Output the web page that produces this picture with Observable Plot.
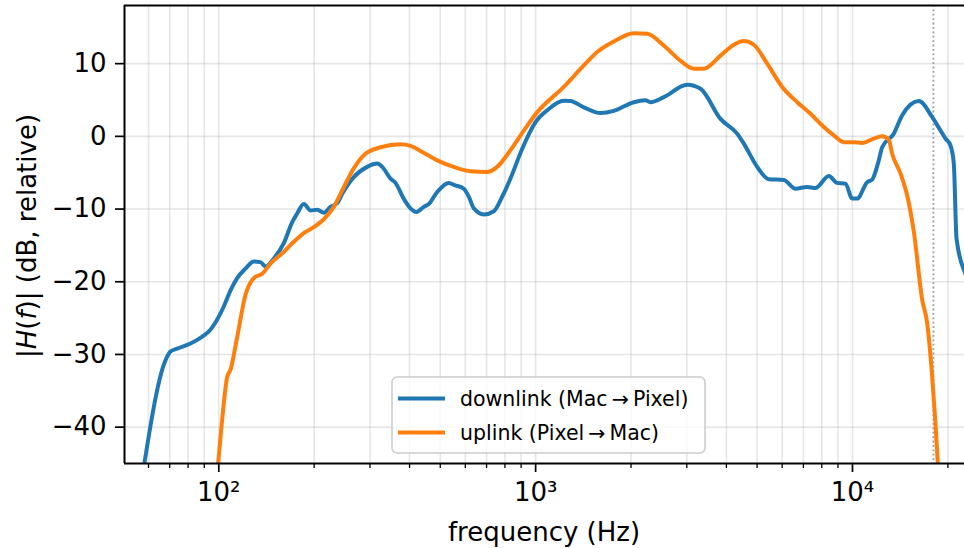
<!DOCTYPE html>
<html>
<head>
<meta charset="utf-8">
<script src="https://cdn.jsdelivr.net/npm/d3@7"></script>
<script src="https://cdn.jsdelivr.net/npm/@observablehq/plot@0.6"></script>
<style>
  html, body { margin: 0; padding: 0; background: #fff; }
  #chart { position: relative; width: 964px; height: 548px; }
</style>
</head>
<body>
<div id="chart"></div>
<script>
// ---- data ----
const seriesNames = ["downlink (Mac\u2009\u2192\u2009Pixel)", "uplink (Pixel\u2009\u2192\u2009Mac)"];
const seriesColors = ["#1f77b4", "#ff7f0e"];

const downFreq = [57.5, 67.6, 70.4, 73.9, 81.4, 89.7, 94.1, 100, 103.7, 108.9, 114.3, 121.4, 129.0, 135.4, 140.4, 149.2, 160.4, 170.5, 176.8, 185.5, 194.7, 204.5, 214.5, 225.2, 236.4, 245.2, 266.7, 294.0, 316.2, 328.0, 348.3, 361.2, 383.6, 402.7, 420.7, 443.6, 460.0, 489.0, 532.0, 554.6, 593.3, 615.3, 638.1, 686.1, 737.8, 784.3, 832.9, 907.1, 999, 1088, 1227, 1288, 1419, 1602, 1765, 2041, 2222, 2304, 2538, 3009, 3314, 3832, 4326, 4539, 5004, 5443, 6071, 6610, 7194, 7641, 8420, 8947, 9504, 9979, 10347, 11126, 11538, 12106, 12408, 13500, 14354, 16195, 17851, 18960, 19661, 20389, 20883, 21300, 22570, 23200];
const downDb = [-46.5, -31.0, -29.6, -29.2, -28.5, -27.4, -26.6, -24.8, -23.4, -21.2, -19.5, -18.2, -17.2, -17.3, -17.9, -16.8, -14.7, -11.8, -10.6, -9.3, -10.2, -10.1, -10.5, -9.7, -9.2, -7.9, -5.6, -4.2, -3.75, -4.2, -5.8, -6.4, -8.6, -9.9, -10.4, -9.7, -9.3, -7.65, -6.4, -6.7, -7.2, -8.3, -9.9, -10.75, -10.3, -8.3, -5.8, -1.7, 1.96, 3.6, 4.9, 4.85, 4.0, 3.2, 3.5, 4.7, 4.95, 4.7, 5.4, 7.1, 6.55, 2.4, 0.37, -1.0, -4.2, -5.9, -6.0, -7.2, -6.95, -7.1, -5.45, -6.4, -6.5, -8.55, -8.55, -6.3, -5.95, -3.3, -1.5, 0.37, 2.9, 4.85, 2.65, 0.8, -0.3, -1.25, -3.75, -14.05, -18.6, -19.8];

const upFreq = [98.8, 102.0, 106.3, 108.9, 114.3, 121.4, 129.0, 137.1, 145.6, 160.4, 172.5, 185.5, 199.5, 214.5, 230.7, 248.0, 266.7, 290.4, 323.9, 374.6, 402.7, 433.2, 489.0, 551.7, 623.0, 703.4, 756.0, 832.9, 917.7, 1011, 1227, 1419, 1564, 1765, 2041, 2250, 2538, 2866, 3157, 3394, 3832, 4222, 4539, 4881, 5381, 6001, 6692, 7370, 8026, 8730, 9389, 10095, 10730, 11670, 12408, 13016, 13340, 14173, 14878, 15610, 16600, 17210, 17850, 18280, 18680];
const upDb = [-46.5, -39.9, -33.1, -32.1, -27.6, -21.8, -19.5, -18.9, -17.5, -15.9, -14.5, -13.3, -12.5, -11.4, -9.7, -7.0, -4.4, -2.4, -1.5, -1.1, -1.3, -2.0, -3.3, -4.2, -4.8, -4.9, -4.2, -1.9, 0.8, 3.3, 6.8, 9.75, 11.6, 13.05, 14.2, 14.1, 12.5, 10.4, 9.3, 9.3, 11.1, 12.6, 13.1, 12.6, 10.0, 6.8, 4.7, 3.1, 1.5, 0.14, -0.8, -0.8, -0.9, -0.3, 0.0, -0.45, -2.4, -5.1, -8.1, -13.05, -22.5, -25.7, -33.1, -39.5, -46.5];

const markerFreq = [18000];

const xMajorTicks = [100, 1000, 10000];
const xMajorLabels = ["10\u00B2", "10\u00B3", "10\u2074"];
const xMinorTicks = [60, 70, 80, 90, 200, 300, 400, 500, 600, 700, 800, 900, 2000, 3000, 4000, 5000, 6000, 7000, 8000, 9000, 20000];
const yTicks = [-40, -30, -20, -10, 0, 10];
const xDomain = [50.4, 22570];
const yDomain = [-45, 18];

// ---- build tables ----
const down = downFreq.map((f, i) => ({f, db: downDb[i]}));
const up = upFreq.map((f, i) => ({f, db: upDb[i]}));

const font = "DejaVu Sans";
const gridStyle = {stroke: "#b0b0b0", strokeOpacity: 0.32, strokeWidth: 1.6};

const plot = Plot.plot({
  width: 964,
  height: 548,
  marginLeft: 124,
  marginRight: 0,
  marginTop: 5,
  marginBottom: 85,
  style: {fontFamily: font, fontSize: "26px", color: "#000", background: "#fff", overflow: "visible"},
  x: {type: "log", domain: xDomain, label: null},
  y: {domain: yDomain, label: null},
  marks: [
    Plot.gridX(xMajorTicks.concat(xMinorTicks), gridStyle),
    Plot.gridY(yTicks, gridStyle),
    Plot.ruleX(markerFreq, {stroke: "#999", strokeWidth: 1.8, strokeDasharray: "1.8,2.6"}),
    Plot.line(down, {x: "f", y: "db", stroke: seriesColors[0], strokeWidth: 4, curve: "monotone-x", clip: true}),
    Plot.line(up, {x: "f", y: "db", stroke: seriesColors[1], strokeWidth: 4, curve: "monotone-x", clip: true}),
    Plot.ruleY([yDomain[0], yDomain[1]], {stroke: "#000", strokeWidth: 2}),
    Plot.ruleX([xDomain[0]], {stroke: "#000", strokeWidth: 2}),
    Plot.axisX(xMajorTicks, {tickFormat: (d) => xMajorLabels[xMajorTicks.indexOf(d)], tickSize: 9, tickPadding: 10, strokeWidth: 1.7, fontSize: 26, label: null}),
    Plot.axisX(xMinorTicks, {tickFormat: () => "", tickSize: 5, strokeWidth: 1.3, label: null}),
    Plot.axisY(yTicks, {tickFormat: d => d < 0 ? "\u2212" + Math.abs(d) : String(d), tickSize: 9, tickPadding: 9, strokeWidth: 1.7, fontSize: 26, label: null})
  ]
});

document.getElementById("chart").appendChild(plot);

// ---- axis labels and legend (text decorations) ----
const svg = d3.select(plot);

svg.append("text")
  .attr("x", 544).attr("y", 541)
  .attr("text-anchor", "middle")
  .attr("font-family", font).attr("font-size", 26).attr("fill", "#000")
  .text("frequency (Hz)");

const yl = svg.append("text")
  .attr("transform", "translate(36,236) rotate(-90)")
  .attr("text-anchor", "middle")
  .attr("font-family", font).attr("font-size", 26).attr("fill", "#000");
yl.append("tspan").text("|");
yl.append("tspan").attr("font-style", "italic").text("H");
yl.append("tspan").text("(");
yl.append("tspan").attr("font-style", "italic").text("f");
yl.append("tspan").text(")| (dB, relative)");

const lg = svg.append("g").attr("font-family", font).attr("font-size", 20.5).attr("text-anchor", "start");
lg.append("rect")
  .attr("x", 392).attr("y", 377).attr("width", 313).attr("height", 76)
  .attr("rx", 5).attr("fill", "#fff").attr("fill-opacity", 0.8)
  .attr("stroke", "#cccccc").attr("stroke-width", 1.6);
seriesNames.forEach((name, i) => {
  const cy = 398.5 + i * 34;
  lg.append("line").attr("x1", 398).attr("x2", 445).attr("y1", cy).attr("y2", cy)
    .attr("stroke", seriesColors[i]).attr("stroke-width", 4);
  lg.append("text").attr("x", 460).attr("y", cy + 7).attr("text-anchor", "start").attr("fill", "#000").text(name);
});
</script>
</body>
</html>
